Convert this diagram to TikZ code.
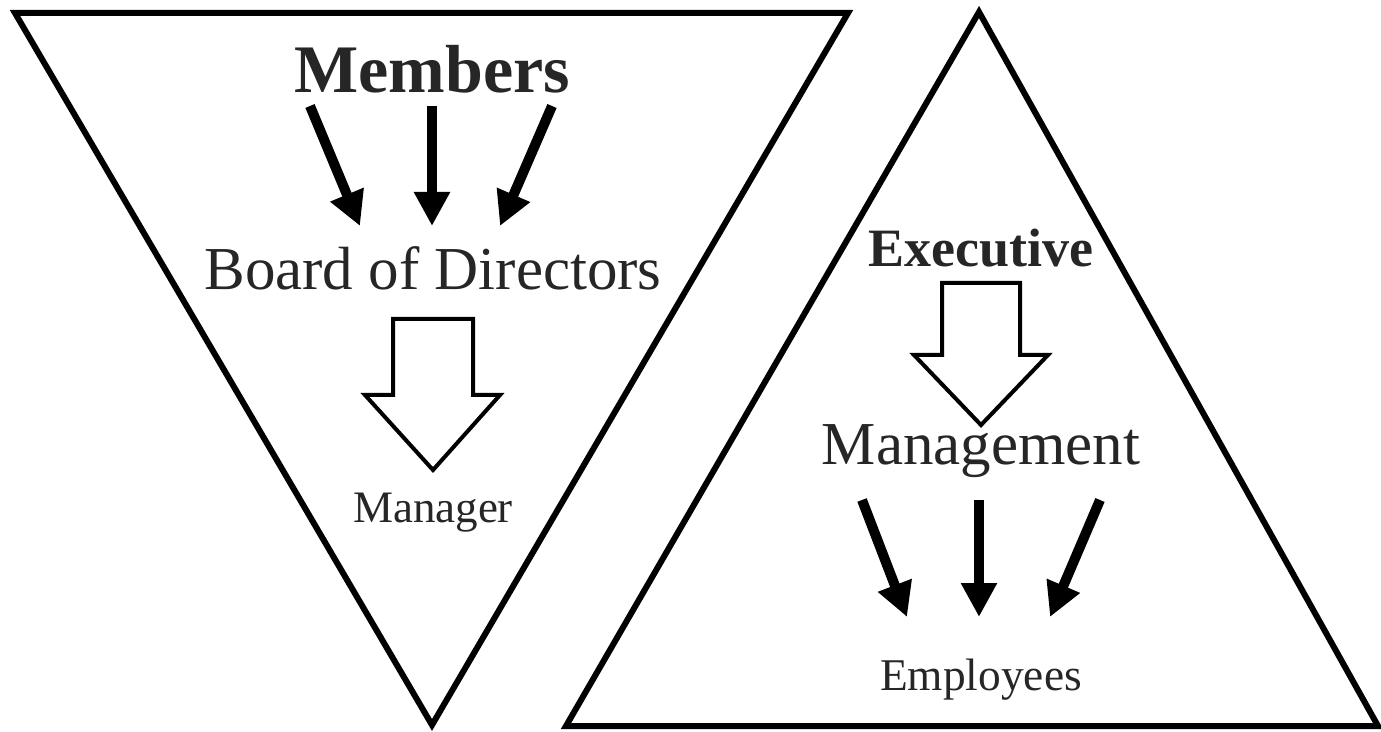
\documentclass[tikz,border=0pt]{standalone}
\usepackage{fontspec}
\setmainfont{Liberation Serif}
\usetikzlibrary{arrows.meta,positioning}

\begin{document}
\begin{tikzpicture}[x=0.5pt,y=-0.5pt,
    frame/.style={line width=3pt,line join=miter},
    hollow/.style={line width=2pt,line join=miter,fill=white},
    fatarrow/.style={line width=5pt,-{Triangle[width=17pt,length=17pt]}},
    label/.style={anchor=base,inner sep=0pt,text=black!85}]
    \useasboundingbox (0,0) rectangle (1381,732);
    % the two triangles
    \draw[frame] (15,13) -- (848,13) -- (432,725) -- cycle;
    \draw[frame] (979,12) -- (1378,726) -- (566,726) -- cycle;
    % left side
    \node[label,font=\bfseries\fontsize{34}{40}\selectfont] (mem) at (432,93) {Members};
    \node[label,font=\fontsize{30.5}{36}\selectfont] (bod) at (433,290) {Board of Directors};
    \node[label,font=\fontsize{22.5}{27}\selectfont] (mgr) at (433,522) {Manager};
    \foreach \n/\a/\b in {1/310/360,2/432/432,3/552/500} {
        \coordinate (m\n) at (\a,106);
        \coordinate (b\n) at (\b,226);
        \draw[fatarrow] (m\n) -- (b\n);
    }
    \coordinate (bodtop) at (433,319);
    \coordinate (mgrtip) at (433,470);
    \draw[hollow] (bodtop) ++(-40,0) -- ++(80,0) -- ++(0,76) -- ++(27,0)
        -- (mgrtip) -- ++(-68,-75) -- ++(28,0) -- cycle;
    % right side
    \node[label,font=\bfseries\fontsize{27}{32}\selectfont] (exe) at (981,267) {Executive};
    \node[label,font=\fontsize{30.5}{36}\selectfont] (mgt) at (981,465) {Management};
    \node[label,font=\fontsize{22.7}{27}\selectfont] (emp) at (981,690) {Employees};
    \coordinate (exetop) at (981,283);
    \coordinate (mgttip) at (981,425);
    \draw[hollow] (exetop) ++(-39,0) -- ++(78,0) -- ++(0,72) -- ++(28,0)
        -- (mgttip) -- ++(-67,-70) -- ++(28,0) -- cycle;
    \foreach \n/\a/\b in {1/862/907,2/979/979,3/1100/1050} {
        \coordinate (g\n) at (\a,500);
        \coordinate (e\n) at (\b,617);
        \draw[fatarrow] (g\n) -- (e\n);
    }
\end{tikzpicture}
\end{document}
